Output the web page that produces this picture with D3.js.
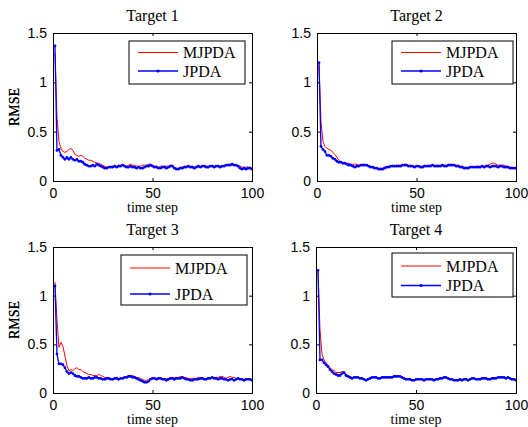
<!DOCTYPE html>
<html>
<head>
<meta charset="utf-8">
<script src="https://cdn.jsdelivr.net/npm/d3@7"></script>
<style>
  body { margin: 0; background: #fff; }
  svg { display: block; }
</style>
</head>
<body>
<div id="chart"></div>
<script>
// RMSE per time step (t = 1..100)
const target1_MJPDA = [
  1.30,0.65,0.40,0.33,0.30,0.29,0.30,0.32,0.33,0.31,
  0.27,0.26,0.25,0.26,0.25,0.23,0.22,0.21,0.21,0.20,
  0.19,0.18,0.18,0.17,0.16,0.15,0.14,0.14,0.15,0.15,
  0.15,0.15,0.16,0.16,0.17,0.16,0.15,0.16,0.17,0.16,
  0.16,0.15,0.15,0.15,0.16,0.16,0.16,0.17,0.17,0.16,
  0.15,0.15,0.14,0.15,0.15,0.15,0.15,0.15,0.16,0.16,
  0.14,0.13,0.13,0.14,0.14,0.15,0.15,0.15,0.15,0.15,
  0.14,0.15,0.15,0.15,0.15,0.16,0.15,0.15,0.15,0.16,
  0.15,0.15,0.16,0.15,0.15,0.16,0.16,0.17,0.17,0.17,
  0.17,0.16,0.16,0.15,0.14,0.14,0.14,0.14,0.14,0.13];
const target1_JPDA = [
  1.37,0.31,0.32,0.26,0.24,0.22,0.24,0.22,0.24,0.22,
  0.21,0.22,0.20,0.20,0.19,0.17,0.16,0.15,0.15,0.16,
  0.15,0.17,0.16,0.15,0.14,0.13,0.13,0.14,0.14,0.14,
  0.15,0.14,0.15,0.15,0.16,0.15,0.14,0.14,0.15,0.14,
  0.14,0.13,0.14,0.13,0.13,0.14,0.15,0.15,0.16,0.15,
  0.14,0.14,0.13,0.13,0.14,0.14,0.13,0.14,0.15,0.15,
  0.13,0.12,0.12,0.13,0.13,0.14,0.14,0.15,0.14,0.14,
  0.13,0.14,0.15,0.14,0.15,0.15,0.14,0.14,0.15,0.15,
  0.14,0.15,0.15,0.14,0.15,0.15,0.16,0.16,0.16,0.17,
  0.16,0.16,0.15,0.13,0.12,0.13,0.12,0.13,0.13,0.12];

const target2_MJPDA = [
  1.18,0.60,0.40,0.35,0.33,0.32,0.31,0.29,0.27,0.24,
  0.21,0.19,0.19,0.18,0.18,0.18,0.17,0.17,0.17,0.17,
  0.16,0.16,0.17,0.17,0.16,0.15,0.15,0.14,0.14,0.13,
  0.13,0.13,0.13,0.14,0.14,0.15,0.15,0.16,0.15,0.16,
  0.16,0.16,0.16,0.17,0.17,0.16,0.16,0.15,0.15,0.15,
  0.15,0.15,0.15,0.16,0.15,0.16,0.16,0.16,0.16,0.16,
  0.16,0.16,0.17,0.16,0.16,0.17,0.17,0.17,0.16,0.16,
  0.16,0.15,0.15,0.14,0.14,0.14,0.14,0.14,0.14,0.15,
  0.15,0.15,0.15,0.15,0.16,0.16,0.17,0.18,0.18,0.17,
  0.16,0.16,0.16,0.16,0.15,0.15,0.14,0.14,0.13,0.13];
const target2_JPDA = [
  1.20,0.35,0.32,0.30,0.26,0.26,0.25,0.23,0.22,0.20,
  0.19,0.19,0.18,0.18,0.17,0.16,0.16,0.15,0.14,0.15,
  0.15,0.16,0.16,0.16,0.16,0.15,0.14,0.14,0.13,0.13,
  0.12,0.12,0.12,0.13,0.14,0.14,0.15,0.15,0.15,0.15,
  0.15,0.15,0.16,0.16,0.16,0.15,0.15,0.15,0.14,0.15,
  0.15,0.14,0.14,0.15,0.15,0.15,0.15,0.16,0.15,0.15,
  0.15,0.15,0.16,0.15,0.15,0.16,0.16,0.16,0.16,0.15,
  0.15,0.14,0.14,0.13,0.13,0.13,0.14,0.14,0.14,0.14,
  0.14,0.14,0.15,0.14,0.15,0.15,0.14,0.15,0.15,0.15,
  0.14,0.15,0.15,0.14,0.14,0.14,0.13,0.13,0.13,0.13];

const target3_MJPDA = [
  1.14,0.75,0.47,0.52,0.48,0.38,0.28,0.23,0.24,0.23,
  0.25,0.26,0.24,0.24,0.22,0.21,0.20,0.19,0.19,0.18,
  0.18,0.18,0.19,0.18,0.17,0.16,0.16,0.16,0.15,0.15,
  0.15,0.16,0.15,0.15,0.16,0.16,0.17,0.18,0.18,0.18,
  0.17,0.16,0.16,0.15,0.14,0.13,0.13,0.14,0.15,0.16,
  0.16,0.15,0.16,0.16,0.15,0.15,0.15,0.15,0.16,0.16,
  0.16,0.16,0.16,0.17,0.17,0.16,0.16,0.15,0.15,0.15,
  0.15,0.15,0.16,0.16,0.16,0.15,0.15,0.16,0.16,0.16,
  0.16,0.16,0.16,0.17,0.17,0.16,0.15,0.16,0.17,0.16,
  0.16,0.15,0.15,0.15,0.14,0.14,0.15,0.14,0.14,0.14];
const target3_JPDA = [
  1.10,0.40,0.30,0.30,0.29,0.26,0.22,0.20,0.21,0.20,
  0.18,0.17,0.17,0.16,0.15,0.15,0.15,0.16,0.15,0.15,
  0.16,0.16,0.15,0.15,0.14,0.14,0.15,0.15,0.14,0.14,
  0.15,0.15,0.14,0.15,0.15,0.16,0.16,0.17,0.17,0.16,
  0.16,0.15,0.14,0.13,0.12,0.11,0.11,0.12,0.14,0.15,
  0.15,0.14,0.15,0.15,0.14,0.14,0.13,0.14,0.15,0.15,
  0.14,0.15,0.15,0.15,0.16,0.15,0.14,0.14,0.13,0.13,
  0.14,0.14,0.14,0.15,0.15,0.14,0.14,0.15,0.15,0.16,
  0.15,0.15,0.14,0.15,0.15,0.14,0.14,0.13,0.14,0.14,
  0.13,0.14,0.15,0.14,0.14,0.13,0.14,0.14,0.14,0.13];

const target4_MJPDA = [
  1.25,0.65,0.40,0.34,0.31,0.29,0.26,0.24,0.23,0.21,
  0.21,0.21,0.22,0.22,0.19,0.18,0.17,0.16,0.16,0.16,
  0.16,0.15,0.15,0.14,0.14,0.14,0.15,0.16,0.16,0.16,
  0.16,0.15,0.16,0.16,0.16,0.16,0.16,0.17,0.17,0.17,
  0.17,0.17,0.16,0.15,0.15,0.14,0.14,0.14,0.13,0.14,
  0.14,0.14,0.14,0.14,0.14,0.14,0.14,0.14,0.14,0.14,
  0.15,0.15,0.15,0.16,0.16,0.15,0.15,0.14,0.14,0.13,
  0.13,0.14,0.14,0.14,0.14,0.14,0.14,0.15,0.15,0.15,
  0.14,0.15,0.15,0.15,0.15,0.15,0.15,0.15,0.16,0.15,
  0.16,0.16,0.16,0.16,0.16,0.16,0.15,0.15,0.14,0.14];
const target4_JPDA = [
  1.26,0.34,0.34,0.31,0.29,0.27,0.24,0.22,0.20,0.19,
  0.18,0.18,0.20,0.21,0.18,0.17,0.16,0.15,0.16,0.16,
  0.16,0.15,0.15,0.14,0.13,0.14,0.15,0.16,0.16,0.16,
  0.15,0.15,0.16,0.16,0.16,0.16,0.16,0.16,0.17,0.17,
  0.17,0.17,0.16,0.15,0.14,0.14,0.14,0.13,0.13,0.14,
  0.14,0.14,0.14,0.13,0.14,0.14,0.14,0.14,0.13,0.14,
  0.14,0.15,0.15,0.16,0.16,0.15,0.14,0.14,0.13,0.13,
  0.13,0.14,0.13,0.14,0.14,0.13,0.14,0.15,0.15,0.14,
  0.14,0.14,0.15,0.15,0.15,0.14,0.14,0.15,0.15,0.15,
  0.16,0.16,0.16,0.16,0.15,0.16,0.15,0.14,0.14,0.13];

const titles = ["Target 1", "Target 2", "Target 3", "Target 4"];
const seriesNames = ["MJPDA", "JPDA"];
const xTicks = [0, 50, 100];
const yTicks = [0, 0.5, 1, 1.5];

const panelData = [
  [target1_MJPDA, target1_JPDA],
  [target2_MJPDA, target2_JPDA],
  [target3_MJPDA, target3_JPDA],
  [target4_MJPDA, target4_JPDA]
];

// layout of each axes box and legend box (pixels)
const boxes = [
  {x: 53, y: 33, w: 199, h: 148, lg: {x: 129, y: 41, w: 116, h: 43, r1: 11.5, r2: 30}},
  {x: 317, y: 33, w: 199, h: 148, lg: {x: 392, y: 41, w: 121, h: 43, r1: 11.5, r2: 30}},
  {x: 53, y: 247, w: 199, h: 146, lg: {x: 121, y: 255, w: 126, h: 50, r1: 13, r2: 39}},
  {x: 316, y: 247, w: 200, h: 146, lg: {x: 392, y: 253, w: 121, h: 44, r1: 13, r2: 32.5}}
];

const colors = ["#ff0000", "#0000ff"];
const serif = "'Liberation Serif', 'Times New Roman', serif";
const sans = "'Liberation Sans', Arial, sans-serif";

const W = 528, H = 427;
const svg = d3.select("#chart").append("svg")
  .attr("width", W)
  .attr("height", H);

panelData.forEach((series, i) => {
  const b = boxes[i];
  const g = svg.append("g").attr("transform", `translate(${b.x},${b.y})`);

  const x = d3.scaleLinear().domain([0, 100]).range([0, b.w]);
  const y = d3.scaleLinear().domain([0, 1.5]).range([b.h, 0]);

  g.append("clipPath").attr("id", "clip" + i)
    .append("rect").attr("width", b.w).attr("height", b.h);

  const line = d3.line()
    .x((d, k) => x(k + 1))
    .y(d => y(d));

  const plot = g.append("g").attr("clip-path", `url(#clip${i})`);

  // MJPDA plain red line
  plot.append("path")
    .datum(series[0])
    .attr("fill", "none")
    .attr("stroke", colors[0])
    .attr("stroke-width", 1)
    .attr("d", line);

  // JPDA blue line with point markers
  plot.append("path")
    .datum(series[1])
    .attr("fill", "none")
    .attr("stroke", colors[1])
    .attr("stroke-width", 1.3)
    .attr("d", line);

  plot.selectAll(".dot")
    .data(series[1])
    .enter().append("circle")
    .attr("class", "dot")
    .attr("cx", (d, k) => x(k + 1))
    .attr("cy", d => y(d))
    .attr("r", 1.4)
    .attr("fill", colors[1]);

  // axes (ticks inward, on all four sides)
  const axB = d3.axisBottom(x).tickValues(xTicks).tickSize(-3).tickPadding(7).tickFormat(d3.format("d"));
  const axT = d3.axisTop(x).tickValues(xTicks).tickSize(-3).tickFormat("");
  const axL = d3.axisLeft(y).tickValues(yTicks).tickSize(-3).tickPadding(6).tickFormat(d => d);
  const axR = d3.axisRight(y).tickValues(yTicks).tickSize(-3).tickFormat("");

  g.append("g").attr("transform", `translate(0,${b.h})`).call(axB);
  g.append("g").call(axT);
  g.append("g").call(axL);
  g.append("g").attr("transform", `translate(${b.w},0)`).call(axR);

  g.selectAll(".domain").attr("stroke", "#000").attr("stroke-width", 1);
  g.selectAll(".tick line").attr("stroke", "#000");
  g.selectAll(".tick text")
    .attr("fill", "#000")
    .style("font-family", sans)
    .style("font-size", "14px");

  // title and axis labels
  g.append("text")
    .attr("x", b.w / 2)
    .attr("y", -12)
    .attr("text-anchor", "middle")
    .style("font-family", serif)
    .style("font-size", "16px")
    .text(titles[i]);

  g.append("text")
    .attr("x", b.w / 2)
    .attr("y", b.h + 31)
    .attr("text-anchor", "middle")
    .style("font-family", serif)
    .style("font-size", "14px")
    .text("time step");

  g.append("text")
    .attr("transform", `translate(${-b.x + 19},${b.h / 2}) rotate(-90)`)
    .attr("text-anchor", "middle")
    .style("font-family", serif)
    .style("font-size", "14px")
    .text("RMSE");

  // legend
  const lg = svg.append("g").attr("transform", `translate(${b.lg.x},${b.lg.y})`);
  lg.append("rect")
    .attr("width", b.lg.w)
    .attr("height", b.lg.h)
    .attr("fill", "#fff")
    .attr("stroke", "#000")
    .attr("stroke-width", 1);

  [b.lg.r1, b.lg.r2].forEach((ry, k) => {
    lg.append("line")
      .attr("x1", 9).attr("x2", 49)
      .attr("y1", ry).attr("y2", ry)
      .attr("stroke", colors[k])
      .attr("stroke-width", k === 1 ? 1.3 : 1);
    if (k === 1) {
      lg.append("circle").attr("cx", 29).attr("cy", ry).attr("r", 1.6).attr("fill", colors[1]);
    }
    lg.append("text")
      .attr("x", 54)
      .attr("y", ry + 5.5)
      .style("font-family", serif)
      .style("font-size", "16px")
      .text(seriesNames[k]);
  });
});
</script>
</body>
</html>
